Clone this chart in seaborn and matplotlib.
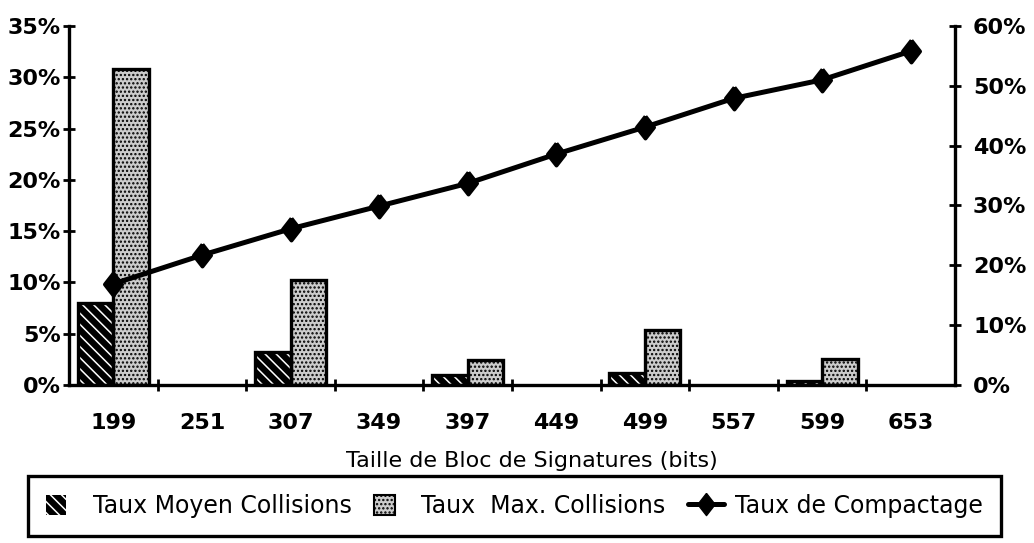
import numpy as np
import pandas as pd
import matplotlib
matplotlib.use("Agg")
import matplotlib.pyplot as plt
import seaborn as sns
from matplotlib.patches import Patch, Rectangle
from matplotlib.lines import Line2D
from matplotlib.legend_handler import HandlerPatch

# Block sizes (bits) and measured rates (%)
taille = ["199", "251", "307", "349", "397", "449", "499", "557", "599", "653"]
taux_moyen = [8.0, np.nan, 3.2, np.nan, 1.0, np.nan, 1.2, np.nan, 0.4, np.nan]
taux_max = [30.8, np.nan, 10.2, np.nan, 2.4, np.nan, 5.4, np.nan, 2.5, np.nan]
taux_compactage = [16.9, 21.7, 26.1, 29.9, 33.7, 38.6, 43.1, 47.9, 51.0, 55.8]

serie_moyen = "Taux Moyen Collisions"
serie_max = "Taux  Max. Collisions"
serie_compact = "Taux de Compactage"

sns.set_theme(style="white")
plt.rcParams["font.family"] = ["DejaVu Sans"]
plt.rcParams["hatch.linewidth"] = 1.1

bars = pd.DataFrame({"taille": taille, serie_moyen: taux_moyen, serie_max: taux_max}).melt(
    id_vars="taille", var_name="serie", value_name="taux")
line = pd.DataFrame({"taille": taille, "compactage": taux_compactage})

fig = plt.figure(figsize=(10.34, 5.43), dpi=100)
ax = fig.add_axes([69 / 1034, 1 - 385 / 543, 886 / 1034, 359 / 543])

sns.barplot(data=bars, x="taille", y="taux", hue="serie", order=taille,
            hue_order=[serie_moyen, serie_max], palette=["black", "white"],
            width=0.8, errorbar=None, saturation=1, legend=False, ax=ax)

LW = 2.4
STIPPLE_FILL = "#cccccc"
# Hatched (mean) bars: black fill, white diagonal hatch, black outline on top
for bar in ax.containers[0]:
    h = bar.get_height()
    if not np.isfinite(h):
        continue
    bar.set_facecolor("black")
    bar.set_edgecolor("white")
    bar.set_hatch("\\\\\\")
    bar.set_linewidth(0)
    ax.add_patch(Rectangle(bar.get_xy(), bar.get_width(), h, fill=False,
                           edgecolor="black", linewidth=LW, zorder=bar.get_zorder() + 0.1))
# Stippled (max) bars
for bar in ax.containers[1]:
    bar.set_facecolor(STIPPLE_FILL)
    bar.set_edgecolor("black")
    bar.set_hatch("....")
    bar.set_linewidth(LW)

ax2 = ax.twinx()
diamond = [(0, 1), (0.78, 0), (0, -1), (-0.78, 0), (0, 1)]
sns.pointplot(data=line, x="taille", y="compactage", order=taille, color="black",
              marker=diamond, markersize=16, linewidth=3.6, errorbar=None, ax=ax2)

n = len(taille)
ax.set_xlim(-0.5, n - 0.5)
ax.set_ylim(0, 35)
ax2.set_ylim(0, 60)

for a in (ax, ax2):
    for s in a.spines.values():
        s.set_color("black")
        s.set_linewidth(LW)
ax.spines["top"].set_visible(False)
ax.spines["right"].set_visible(False)
ax2.spines["top"].set_visible(False)
ax2.spines["left"].set_visible(False)
ax2.spines["bottom"].set_visible(False)

# left axis
ax.set_yticks(np.arange(0, 36, 5))
ax.set_yticklabels([f"{v}%" for v in range(0, 36, 5)])
ax.tick_params(axis="y", direction="inout", length=8, width=2, color="black",
               labelsize=16, pad=2, left=True)
# right axis
ax2.set_yticks(np.arange(0, 61, 10))
ax2.set_yticklabels([f"{v}%" for v in range(0, 61, 10)])
ax2.tick_params(axis="y", direction="inout", length=8, width=2, color="black",
                labelsize=16, pad=9, right=True)
# x axis
ax.set_xticks(np.arange(n))
ax.set_xticklabels(taille)
ax.set_xticks(np.arange(0.5, n - 1, 1), minor=True)
ax.tick_params(axis="x", which="major", length=0, labelsize=16, pad=20)
ax.tick_params(axis="x", which="minor", direction="inout", length=8, width=2,
               color="black", bottom=True)
for lab in ax.get_xticklabels() + ax.get_yticklabels() + ax2.get_yticklabels():
    lab.set_fontweight("bold")
    lab.set_color("black")

ax.set_ylabel("")
ax2.set_ylabel("")
ax.set_xlabel("Taille de Bloc de Signatures (bits)", fontsize=16, color="black")
ax.xaxis.set_label_coords((532 - 69) / 886, -0.183)


def left_square(legend, orig_handle, xdescent, ydescent, width, height, fontsize):
    # square swatch at the left end of the handle box
    s = height * 1.08
    return Rectangle((-xdescent, -ydescent + (height - s) / 2), s, s)


handles = [
    Patch(facecolor="black", edgecolor="white", hatch="\\\\\\", linewidth=0),
    Patch(facecolor=STIPPLE_FILL, edgecolor="black", hatch="....", linewidth=1.5),
    Line2D([], [], color="black", linewidth=3.6, marker=diamond, markersize=16),
]
leg = fig.legend(handles, [serie_moyen, serie_max, serie_compact], loc="center",
                 bbox_to_anchor=(28 / 1034, 1 - 537 / 543, 973 / 1034, 62 / 543),
                 mode="expand", ncol=3, frameon=True, fancybox=False, framealpha=1,
                 edgecolor="black", fontsize=17, handlelength=1.5, handleheight=0.85,
                 handletextpad=0.5, borderaxespad=0, borderpad=0.75, columnspacing=0.3,
                 handler_map={Patch: HandlerPatch(patch_func=left_square)})
leg.get_frame().set_linewidth(LW)
for t in leg.get_texts():
    t.set_color("black")

fig.savefig("out.png", dpi=100)
